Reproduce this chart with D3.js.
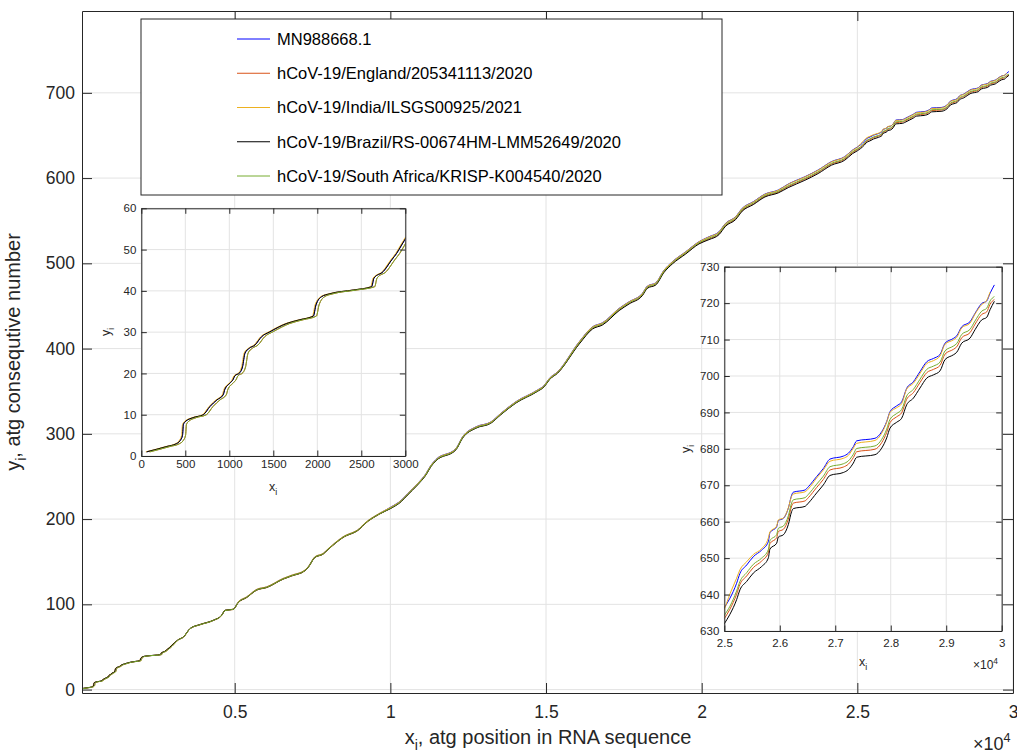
<!DOCTYPE html>
<html>
<head>
<meta charset="utf-8">
<script src="https://cdn.jsdelivr.net/npm/d3@7"></script>
<style>
  body { margin: 0; background: #fff; }
  svg { display: block; font-family: "Liberation Sans", Arial, Helvetica, sans-serif; }
</style>
</head>
<body>
<div id="chart"></div>
<script>
// ---- data ----
const seriesNames = [
    "MN988668.1",
    "hCoV-19/England/205341113/2020",
    "hCoV-19/India/ILSGS00925/2021",
    "hCoV-19/Brazil/RS-00674HM-LMM52649/2020",
    "hCoV-19/South Africa/KRISP-K004540/2020"
];
const seriesColors = ["#0000ff", "#d95319", "#edb120", "#000000", "#77ac30"];

// start of the genome (0..3000): same atg count, positions shifted per sequence
const startCount = [1.0, 2.3, 3.0, 3.7, 5.0, 7.6, 8.3, 9.3, 10.0, 12.0, 13.6, 14.8, 16.2, 17.6, 18.6,
    19.4, 20.2, 21.6, 24.9, 26.1, 26.9, 28.9, 30.1, 32.1, 33.0, 33.9, 36.6, 38.6, 39.3, 40.2,
    41.0, 43.1, 44.7, 47.5, 49.1, 51.1];
const startPosLeft = [61, 290, 400, 440, 468, 478, 498, 590, 705, 780, 860, 930, 950, 1005, 1045,
    1062, 1120, 1150, 1178, 1227, 1292, 1367, 1462, 1652, 1803, 1955, 1985, 2049, 2144, 2409,
    2617, 2644, 2750, 2845, 2902, 2958];
const startPosIndia = [51, 280, 390, 430, 458, 468, 488, 580, 695, 770, 850, 920, 940, 995, 1035,
    1052, 1110, 1140, 1168, 1217, 1282, 1357, 1452, 1642, 1793, 1945, 1975, 2039, 2134, 2399,
    2607, 2634, 2740, 2835, 2892, 2948];
const startPosRight = [96, 325, 435, 475, 503, 513, 533, 625, 740, 815, 895, 965, 985, 1040, 1080,
    1097, 1155, 1185, 1213, 1262, 1327, 1402, 1497, 1687, 1838, 1990, 2020, 2084, 2179, 2444,
    2652, 2679, 2785, 2880, 2937, 2993];

// middle of the genome
const midPos = [3192, 3353, 3567, 3888, 4314, 4583, 4689, 4955, 5115, 5385, 5705, 6026, 6558, 6827,
    7253, 7359, 7574, 7840, 8000, 8476, 9011, 9171, 9651, 10026, 10346, 10557, 10877, 11146, 11306,
    11466, 12107, 12318, 12747, 13227, 13547, 14027, 14720, 14946, 15106, 15372, 16067, 16494,
    16814, 17349, 17670, 18096, 18257, 18525, 18791, 19058, 19487, 19913, 20234, 20555, 20768,
    21090, 21302, 21658, 22033, 22459, 22779, 23314, 23740, 24167, 24594, 24850];
const midMN = [58.6, 61.7, 71.6, 76.3, 81.3, 87.2, 93.0, 94.2, 102.8, 108.7, 117.4, 120.4, 130.3, 134.0,
    140.0, 143.9, 155.6, 159.6, 165.0, 179.0, 189.0, 194.8, 206.6, 214.3, 222.0, 230.0, 241.8, 253.5,
    263.3, 270.0, 282.9, 296.5, 308.2, 314.0, 324.0, 337.6, 351.3, 357.0, 365.0, 372.8, 408.0, 425.6,
    430.3, 447.2, 455.0, 464.8, 473.4, 477.2, 492.0, 501.9, 513.6, 525.4, 531.2, 537.0, 547.0, 554.7,
    564.6, 572.3, 581.3, 586.0, 593.0, 601.6, 609.5, 619.3, 625.1, 633.0];
const midEngland = [58.3, 61.4, 71.3, 76.0, 81.0, 86.9, 92.7, 93.9, 102.0, 107.9, 116.6, 119.6, 129.5, 133.2,
    139.2, 143.1, 154.8, 158.8, 164.2, 178.2, 188.2, 194.0, 205.8, 213.0, 220.7, 228.7, 240.5, 252.2,
    262.0, 268.7, 281.6, 295.2, 306.9, 312.7, 322.7, 336.3, 350.0, 355.7, 363.7, 371.5, 406.0, 423.6,
    428.3, 445.2, 453.0, 462.8, 471.4, 475.2, 490.0, 499.9, 511.6, 523.4, 528.7, 534.5, 544.5, 552.2,
    562.1, 569.8, 578.8, 583.5, 590.1, 598.7, 606.6, 616.4, 622.2, 630.1];
const midIndia = [58.8, 61.9, 71.8, 76.5, 81.5, 87.4, 93.2, 94.4, 103.0, 108.9, 117.6, 120.6, 130.5, 134.2,
    140.2, 144.1, 155.8, 159.8, 165.2, 179.2, 189.2, 195.0, 206.8, 214.1, 221.8, 229.8, 241.6, 253.3,
    263.1, 269.8, 282.7, 296.3, 308.0, 313.8, 323.8, 337.4, 351.1, 356.8, 364.8, 372.6, 407.8, 425.4,
    430.1, 447.0, 454.8, 464.6, 473.2, 477.0, 491.8, 501.7, 513.4, 525.2, 530.9, 536.7, 546.7, 554.4,
    564.3, 572.0, 581.0, 585.7, 592.7, 601.3, 609.2, 619.0, 624.8, 632.7];
const midBrazil = [58.6, 61.7, 71.6, 76.3, 81.3, 87.2, 93.0, 94.2, 102.2, 108.1, 116.8, 119.8, 129.7, 133.4,
    139.4, 143.3, 155.0, 159.0, 164.4, 178.4, 188.4, 194.2, 206.0, 212.7, 220.4, 228.4, 240.2, 251.9,
    261.7, 268.4, 281.3, 294.9, 306.6, 312.4, 322.4, 336.0, 349.7, 355.4, 363.4, 371.2, 405.4, 423.0,
    427.7, 444.6, 452.4, 462.2, 470.8, 474.6, 489.4, 499.3, 511.0, 522.8, 527.8, 533.6, 543.6, 551.3,
    561.2, 568.9, 577.9, 582.6, 588.8, 597.4, 605.3, 615.1, 620.9, 628.8];
const midSAfrica = [58.4, 61.5, 71.4, 76.1, 81.1, 87.0, 92.8, 94.0, 102.3, 108.2, 116.9, 119.9, 129.8, 133.5,
    139.5, 143.4, 155.1, 159.1, 164.5, 178.5, 188.5, 194.3, 206.1, 213.3, 221.0, 229.0, 240.8, 252.5,
    262.3, 269.0, 281.9, 295.5, 307.2, 313.0, 323.0, 336.6, 350.3, 356.0, 364.0, 371.8, 406.7, 424.3,
    429.0, 445.9, 453.7, 463.5, 472.1, 475.9, 490.7, 500.6, 512.3, 524.1, 529.6, 535.4, 545.4, 553.1,
    563.0, 570.7, 579.7, 584.4, 591.0, 599.6, 607.5, 617.3, 623.1, 631.0];

// end of the genome (25000..)
const endPos = [25000, 25102, 25222, 25282, 25403, 25523, 25673, 25793, 25823, 25944, 25974, 26064, 26154,
    26214, 26244, 26454, 26515, 26665, 26785, 26905, 27145, 27236, 27326, 27386, 27716, 27837, 27927,
    27987, 28107, 28197, 28287, 28407, 28527, 28648, 28768, 28888, 28978, 29128, 29189, 29279, 29429,
    29519, 29640, 29730, 29790, 29868];
const endMN = [636.4, 639.0, 643.1, 645.8, 648.1, 650.4, 652.2, 654.5, 657.0, 658.6, 660.3, 660.9, 663.7,
    667.3, 668.1, 668.7, 669.6, 672.4, 674.6, 677.2, 678.0, 678.8, 680.6, 682.2, 682.9, 684.7, 687.5,
    690.2, 691.8, 692.9, 696.6, 698.4, 701.2, 703.9, 704.8, 705.9, 709.0, 710.3, 711.0, 713.5, 714.9,
    717.2, 719.9, 720.6, 722.7, 725.0];
const endEngland = [633.4, 636.0, 640.1, 642.8, 645.1, 647.4, 649.2, 651.5, 654.0, 655.6, 657.3, 657.9, 660.7,
    664.3, 665.1, 665.7, 666.6, 669.4, 671.6, 674.2, 675.0, 675.8, 677.6, 679.2, 679.9, 681.7, 684.5,
    687.2, 688.8, 689.9, 693.6, 695.4, 698.2, 700.9, 701.8, 702.9, 706.0, 707.3, 708.0, 710.5, 711.9,
    714.2, 716.9, 717.6, 719.7, 721.0];
const endIndia = [636.0, 640.2, 644.5, 646.8, 649.0, 651.0, 652.6, 655.5, 657.2, 658.8, 660.5, 661.0, 663.8,
    667.0, 667.6, 668.2, 669.0, 672.0, 674.2, 676.6, 677.4, 678.2, 680.2, 681.5, 682.3, 684.3, 687.3,
    690.0, 691.3, 692.4, 696.4, 698.0, 700.7, 703.4, 704.2, 705.5, 708.7, 709.9, 710.6, 713.2, 714.5,
    717.0, 719.6, 720.8, 723.0, null];
const endBrazil = [632.0, 634.6, 638.6, 641.3, 643.6, 645.9, 647.7, 650.0, 652.5, 654.1, 655.8, 656.4, 659.2,
    662.8, 663.6, 664.2, 665.1, 667.9, 670.1, 672.7, 673.5, 674.3, 676.1, 677.7, 678.4, 680.2, 683.0,
    685.7, 687.3, 688.4, 692.1, 693.9, 696.7, 699.4, 700.3, 701.4, 704.5, 705.8, 706.5, 709.0, 710.4,
    712.7, 715.4, 716.1, 718.2, 720.5];
const endSAfrica = [634.3, 636.8, 641.0, 643.6, 646.0, 648.3, 650.0, 652.3, 654.8, 656.5, 658.2, 658.8, 661.6,
    665.2, 666.0, 666.6, 667.5, 670.3, 672.5, 675.1, 675.9, 676.7, 678.5, 680.1, 680.8, 682.6, 685.4,
    688.1, 689.7, 690.8, 694.5, 696.3, 699.1, 701.8, 702.7, 703.8, 706.9, 708.2, 708.9, 711.4, 712.8,
    715.1, 717.8, 718.6, 720.6, 721.8];

// ticks
const mainXTicks = [5000, 10000, 15000, 20000, 25000, 30000];
const mainYTicks = [0, 100, 200, 300, 400, 500, 600, 700];
const inset1XTicks = [0, 500, 1000, 1500, 2000, 2500, 3000];
const inset1YTicks = [0, 10, 20, 30, 40, 50, 60];
const inset2XTicks = [25000, 26000, 27000, 28000, 29000, 30000];
const inset2YTicks = [630, 640, 650, 660, 670, 680, 690, 700, 710, 720, 730];

// ---- assemble series ----
function zip(xs, ys) { return xs.map((x, i) => [x, ys[i]]); }
const series = [
    [startPosLeft, midMN, endMN],
    [startPosRight, midEngland, endEngland],
    [startPosIndia, midIndia, endIndia],
    [startPosLeft, midBrazil, endBrazil],
    [startPosRight, midSAfrica, endSAfrica]
].map((p, i) => ({
    name: seriesNames[i],
    color: seriesColors[i],
    pts: zip(p[0], startCount).concat(zip(midPos, p[1]), zip(endPos, p[2])).filter(d => d[1] != null)
}));

const W = 1017, H = 753;
const axisColor = "#262626", gridColor = "#e3e3e3";
const fontStack = '"Liberation Sans", Arial, Helvetica, sans-serif';

const svg = d3.select("#chart").append("svg")
    .attr("width", W).attr("height", H);
svg.append("rect").attr("width", W).attr("height", H).attr("fill", "#fff");

function drawGrid(g, x, y, xt, yt) {
    const [x0, x1] = x.range(), [y0, y1] = y.range();
    g.append("g").selectAll("line").data(xt).join("line")
        .attr("x1", d => x(d)).attr("x2", d => x(d))
        .attr("y1", y0).attr("y2", y1)
        .attr("stroke", gridColor).attr("stroke-width", 1);
    g.append("g").selectAll("line").data(yt).join("line")
        .attr("y1", d => y(d)).attr("y2", d => y(d))
        .attr("x1", x0).attr("x2", x1)
        .attr("stroke", gridColor).attr("stroke-width", 1);
}

function drawCurves(g, x, y, clipId) {
    const [x0, x1] = x.range(), [y0, y1] = y.range();
    svg.append("clipPath").attr("id", clipId).append("rect")
        .attr("x", x0).attr("y", y1).attr("width", x1 - x0).attr("height", y0 - y1);
    const line = d3.line().x(d => x(d[0])).y(d => y(d[1])).curve(d3.curveMonotoneX);
    g.append("g").attr("clip-path", `url(#${clipId})`)
        .selectAll("path").data(series).join("path")
        .attr("d", d => line(d.pts))
        .attr("fill", "none")
        .attr("stroke", d => d.color)
        .attr("stroke-width", 1);
}

function drawAxes(g, x, y, xt, yt, o) {
    const [x0, x1] = x.range(), [y0, y1] = y.range();
    const parts = [
        g.append("g").attr("transform", `translate(0,${y0})`)
            .call(d3.axisBottom(x).tickValues(xt).tickSize(-o.tick).tickSizeOuter(0)
                .tickPadding(o.padX).tickFormat(o.fx)),
        g.append("g").attr("transform", `translate(0,${y1})`)
            .call(d3.axisTop(x).tickValues(xt).tickSize(-o.tick).tickSizeOuter(0).tickFormat("")),
        g.append("g").attr("transform", `translate(${x0},0)`)
            .call(d3.axisLeft(y).tickValues(yt).tickSize(-o.tick).tickSizeOuter(0).tickPadding(o.padY)),
        g.append("g").attr("transform", `translate(${x1},0)`)
            .call(d3.axisRight(y).tickValues(yt).tickSize(-o.tick).tickSizeOuter(0).tickFormat(""))
    ];
    parts.forEach(a => {
        a.attr("font-family", fontStack).attr("font-size", o.fs);
        a.selectAll(".domain").attr("stroke", axisColor).attr("stroke-width", 1);
        a.selectAll(".tick line").attr("stroke", axisColor).attr("stroke-width", 1);
        a.selectAll(".tick text").attr("fill", axisColor);
    });
}

// text with subscript helper
function subText(g, main, sub, rest, fs) {
    const t = g.append("text").attr("font-size", fs).attr("fill", axisColor);
    t.append("tspan").text(main);
    t.append("tspan").text(sub).attr("font-size", fs * 0.7).attr("dy", fs * 0.3);
    t.append("tspan").text(rest || "").attr("dy", -fs * 0.3);
    return t;
}
function expText(g, fs) {
    const t = g.append("text").attr("font-size", fs).attr("fill", axisColor);
    t.append("tspan").text("\u00d710");
    t.append("tspan").text("4").attr("font-size", fs * 0.7).attr("dy", -fs * 0.42);
    return t;
}

// ---- main axes ----
const xMain = d3.scaleLinear().domain([95, 30000]).range([82, 1013]);
const yMain = d3.scaleLinear().domain([-4, 796]).range([693, 11]);
const gMain = svg.append("g");
drawGrid(gMain, xMain, yMain, mainXTicks, mainYTicks);
drawCurves(gMain, xMain, yMain, "clipMain");
drawAxes(gMain, xMain, yMain, mainXTicks, mainYTicks,
    { tick: 10, padX: 13, padY: 7, fs: 17.5, fx: d => d / 1e4 });

subText(gMain, "x", "i", ", atg position in RNA sequence", 20)
    .attr("x", 548).attr("y", 744).attr("text-anchor", "middle");
subText(gMain, "y", "i", ", atg consequtive number", 20)
    .attr("text-anchor", "middle")
    .attr("transform", "translate(20,352) rotate(-90)");
expText(gMain, 18).attr("x", 973).attr("y", 750);

// ---- legend ----
const legend = svg.append("g");
legend.append("rect")
    .attr("x", 141).attr("y", 19).attr("width", 581).attr("height", 176)
    .attr("fill", "#fff").attr("stroke", axisColor).attr("stroke-width", 1);
const legendRowY = d3.scalePoint().domain(seriesNames).range([39, 176]);
series.forEach(s => {
    const yy = legendRowY(s.name);
    legend.append("line")
        .attr("x1", 237).attr("x2", 270).attr("y1", yy).attr("y2", yy)
        .attr("stroke", s.color).attr("stroke-width", 1);
    legend.append("text")
        .attr("x", 277).attr("y", yy).attr("dy", "0.35em")
        .attr("font-size", 16.5).attr("fill", "#000")
        .text(s.name);
});

// ---- inset 1: start of the sequence ----
const xIn1 = d3.scaleLinear().domain([0, 3000]).range([141.3, 405.3]);
const yIn1 = d3.scaleLinear().domain([0, 60]).range([456, 208.3]);
const gIn1 = svg.append("g");
gIn1.append("rect").attr("x", 141.3).attr("y", 208.3)
    .attr("width", 264).attr("height", 247.7).attr("fill", "#fff");
drawGrid(gIn1, xIn1, yIn1, inset1XTicks, inset1YTicks);
drawCurves(gIn1, xIn1, yIn1, "clipIn1");
drawAxes(gIn1, xIn1, yIn1, inset1XTicks, inset1YTicks,
    { tick: 5.5, padX: 4, padY: 5, fs: 11.5, fx: d => d });
subText(gIn1, "x", "i", "", 12.5).attr("x", 273).attr("y", 491).attr("text-anchor", "middle");
subText(gIn1, "y", "i", "", 12.5).attr("text-anchor", "middle")
    .attr("transform", "translate(110,332) rotate(-90)");

// ---- inset 2: end of the sequence ----
const xIn2 = d3.scaleLinear().domain([25000, 30000]).range([724.3, 1001.7]);
const yIn2 = d3.scaleLinear().domain([630, 730]).range([631, 266.7]);
const gIn2 = svg.append("g");
gIn2.append("rect").attr("x", 724.3).attr("y", 266.7)
    .attr("width", 277.4).attr("height", 364.3).attr("fill", "#fff");
drawGrid(gIn2, xIn2, yIn2, inset2XTicks, inset2YTicks);
drawCurves(gIn2, xIn2, yIn2, "clipIn2");
drawAxes(gIn2, xIn2, yIn2, inset2XTicks, inset2YTicks,
    { tick: 5.5, padX: 8, padY: 5, fs: 11.5, fx: d => d / 1e4 });
subText(gIn2, "x", "i", "", 12.5).attr("x", 863).attr("y", 666).attr("text-anchor", "middle");
subText(gIn2, "y", "i", "", 12.5).attr("text-anchor", "middle")
    .attr("transform", "translate(690,449) rotate(-90)");
expText(gIn2, 12).attr("x", 973).attr("y", 669);
</script>
</body>
</html>
